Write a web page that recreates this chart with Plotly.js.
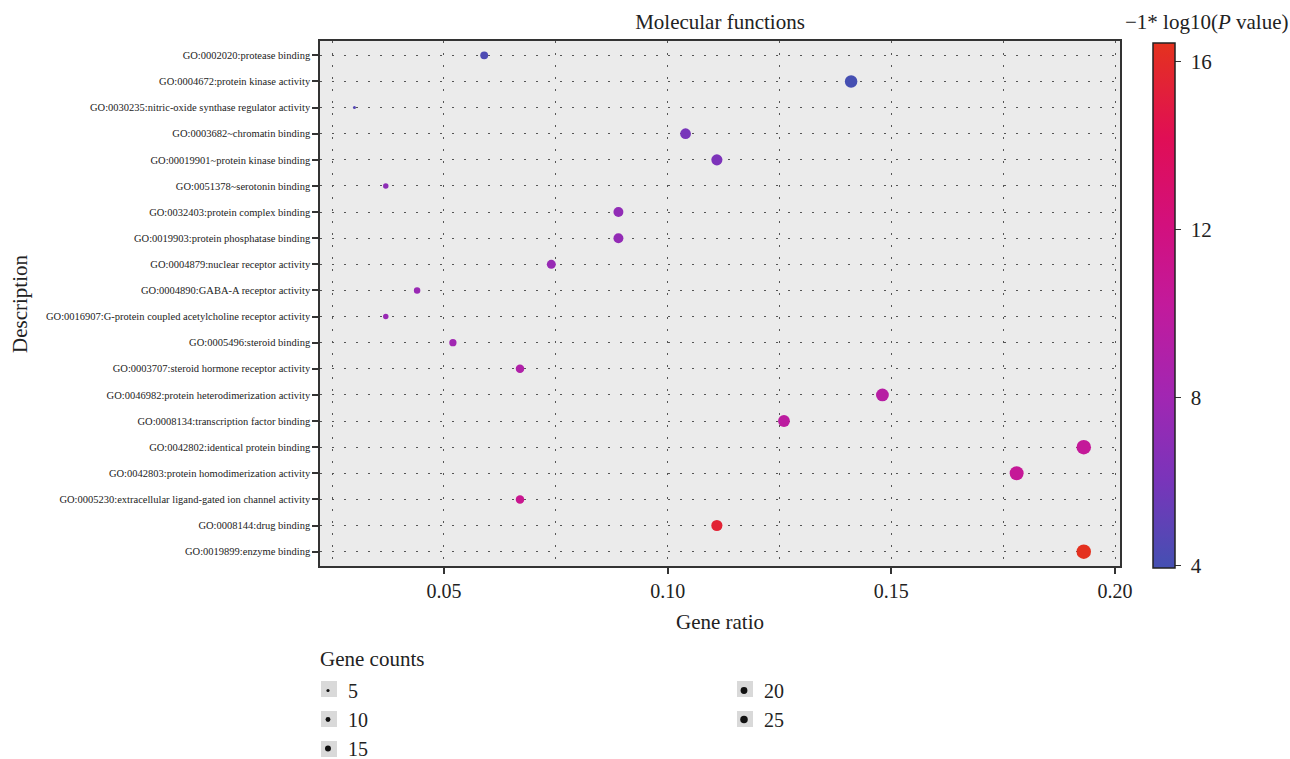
<!DOCTYPE html>
<html><head><meta charset="utf-8">
<script src="https://cdn.plot.ly/plotly-3.0.1.min.js"></script>
<style>body{margin:0;background:#fff}</style>
</head><body><div id="chart" style="width:1290px;height:759px"></div>
<script>
const terms = [
  "GO:0002020:protease binding",
  "GO:0004672:protein kinase activity",
  "GO:0030235:nitric-oxide synthase regulator activity",
  "GO:0003682~chromatin binding",
  "GO:00019901~protein kinase binding",
  "GO:0051378~serotonin binding",
  "GO:0032403:protein complex binding",
  "GO:0019903:protein phosphatase binding",
  "GO:0004879:nuclear receptor activity",
  "GO:0004890:GABA-A receptor activity",
  "GO:0016907:G-protein coupled acetylcholine receptor activity",
  "GO:0005496:steroid binding",
  "GO:0003707:steroid hormone receptor activity",
  "GO:0046982:protein heterodimerization activity",
  "GO:0008134:transcription factor binding",
  "GO:0042802:identical protein binding",
  "GO:0042803:protein homodimerization activity",
  "GO:0005230:extracellular ligand-gated ion channel activity",
  "GO:0008144:drug binding",
  "GO:0019899:enzyme binding"
];
const geneRatio = [0.059, 0.141, 0.030, 0.104, 0.111, 0.037, 0.089, 0.089, 0.074, 0.044,
                   0.037, 0.052, 0.067, 0.148, 0.126, 0.193, 0.178, 0.067, 0.111, 0.193];
const geneCounts = [8, 19, 4, 14, 15, 5, 12, 12, 10, 6, 5, 7, 9, 20, 17, 26, 24, 9, 15, 26];
const negLogP = [4.3, 4.0, 4.6, 6.0, 6.2, 7.0, 7.2, 7.3, 7.5, 7.6,
                 7.6, 8.0, 9.0, 9.5, 9.8, 10.4, 10.5, 11.0, 15.5, 16.4];
const legendCounts = [5, 10, 15, 20, 25];
const colorTicks = [4, 8, 12, 16];

const FONT = "Liberation Serif, Times New Roman, serif";
const cMin = 3.95, cMax = 16.45;
const countMin = Math.min(...geneCounts), countMax = Math.max(...geneCounts);
function dotSize(c) {
  const t = Math.max(0, (c - countMin) / (countMax - countMin));
  return 3 + 11.5 * Math.sqrt(t);
}

const traces = [{
  type: 'scatter', mode: 'markers',
  x: geneRatio, y: terms,
  showlegend: false,
  marker: {
    size: geneCounts.map(dotSize),
    color: negLogP, cmin: cMin, cmax: cMax,
    colorscale: [
      [0.0, '#4450b2'],
      [0.17, '#7a34ba'],
      [0.33, '#a226b2'],
      [0.5, '#c21a9c'],
      [0.65, '#d2107e'],
      [0.82, '#e00e55'],
      [1.0, '#e4321e']
    ],
    line: {width: 0},
    opacity: 1,
    colorbar: {
      x: 1.041, xanchor: 'left', xpad: 0,
      y: 0.497, yanchor: 'middle', ypad: 0,
      len: 1.0, lenmode: 'fraction', thickness: 22,
      outlinewidth: 1.5, outlinecolor: '#222',
      tickvals: colorTicks, ticktext: colorTicks.map(v => '\u00a0' + v),
      ticks: 'outside', ticklen: 6, tickwidth: 1.2, tickcolor: '#333',
      tickfont: {family: FONT, size: 21, color: '#222'}
    }
  }
}];

legendCounts.forEach((c, i) => {
  traces.push({
    type: 'scatter', mode: 'markers',
    x: [null], y: [null],
    name: String(c),
    legend: i < 3 ? 'legend' : 'legend2',
    legendgroup: 'g' + c,
    showlegend: true,
    marker: {color: '#111', size: 0.5 * dotSize(c) + 0.4, line: {width: 0}}
  });
});

// plot area in pixels: x 320..1120, y 41..566
const PX0 = 320, PX1 = 1120, PY0 = 41, PY1 = 566;
const px = v => (v - PX0) / (PX1 - PX0);
const py = v => (PY1 - v) / (PY1 - PY0);
const keyBoxes = [[329, 689], [329, 719], [329, 749], [745, 689], [745, 719]];
const shapes = keyBoxes.map(([cx, cy]) => ({
  type: 'rect', xref: 'paper', yref: 'paper', layer: 'above',
  x0: px(cx - 8), x1: px(cx + 8), y0: py(cy + 8), y1: py(cy - 8),
  fillcolor: '#d9d9d9', line: {width: 0}
}));

const layout = {
  width: 1290, height: 759,
  margin: {l: 320, r: 170, t: 41, b: 193, autoexpand: false},
  paper_bgcolor: '#ffffff',
  plot_bgcolor: '#ebebeb',
  font: {family: FONT, color: '#222'},
  title: {
    text: 'Molecular functions',
    font: {family: FONT, size: 21, color: '#222'},
    x: 0.5, xref: 'paper', xanchor: 'center',
    y: 1 - 22 / 759, yref: 'container', yanchor: 'middle'
  },
  xaxis: {
    range: [0.0223, 0.2011],
    tick0: 0, dtick: 0.05, tickformat: '.2f',
    ticks: 'outside', ticklen: 6, tickwidth: 1.5, tickcolor: '#333',
    tickfont: {family: FONT, size: 20, color: '#222'},
    showline: true, mirror: true, linecolor: '#333', linewidth: 1.5,
    showgrid: true, gridcolor: '#555', gridwidth: 1, griddash: '2px,10px',
    minor: {dtick: 0.025, showgrid: true, gridcolor: '#555', gridwidth: 1, griddash: '2px,10px'},
    zeroline: false,
    automargin: false,
    title: {text: 'Gene ratio', font: {family: FONT, size: 21, color: '#222'}, standoff: 14}
  },
  yaxis: {
    type: 'category',
    categoryorder: 'array', categoryarray: terms,
    range: [terms.length - 0.45, -0.55],
    ticks: 'outside', ticklen: 6, tickwidth: 1.5, tickcolor: '#333',
    tickfont: {family: FONT, size: 10.5, color: '#222'},
    showline: true, mirror: true, linecolor: '#333', linewidth: 1.5,
    showgrid: true, gridcolor: '#555', gridwidth: 1, griddash: '2px,10px',
    zeroline: false,
    automargin: false
  },
  legend: {
    x: px(308), xanchor: 'left', y: py(671), yanchor: 'top',
    orientation: 'v', bgcolor: 'rgba(0,0,0,0)', borderwidth: 0,
    font: {family: FONT, size: 20, color: '#222'},
    tracegroupgap: 0, itemsizing: 'trace'
  },
  legend2: {
    x: px(724), xanchor: 'left', y: py(671), yanchor: 'top',
    orientation: 'v', bgcolor: 'rgba(0,0,0,0)', borderwidth: 0,
    font: {family: FONT, size: 20, color: '#222'},
    tracegroupgap: 0, itemsizing: 'trace'
  },
  shapes: shapes,
  annotations: [{
    text: '\u22121* log10(<i>P</i> value)',
    xref: 'paper', yref: 'paper',
    x: px(1206), y: py(22), xanchor: 'center', yanchor: 'middle',
    showarrow: false,
    font: {family: FONT, size: 21, color: '#222'}
  }, {
    text: 'Gene counts',
    xref: 'paper', yref: 'paper',
    x: px(318), y: py(659), xanchor: 'left', yanchor: 'middle',
    showarrow: false,
    font: {family: FONT, size: 21, color: '#222'}
  }, {
    text: 'Description',
    xref: 'paper', yref: 'paper',
    x: px(20), y: py(304), xanchor: 'center', yanchor: 'middle',
    textangle: -90,
    showarrow: false,
    font: {family: FONT, size: 21, color: '#222'}
  }]
};

Plotly.newPlot('chart', traces, layout, {displayModeBar: false, responsive: false});
</script>
</body></html>
